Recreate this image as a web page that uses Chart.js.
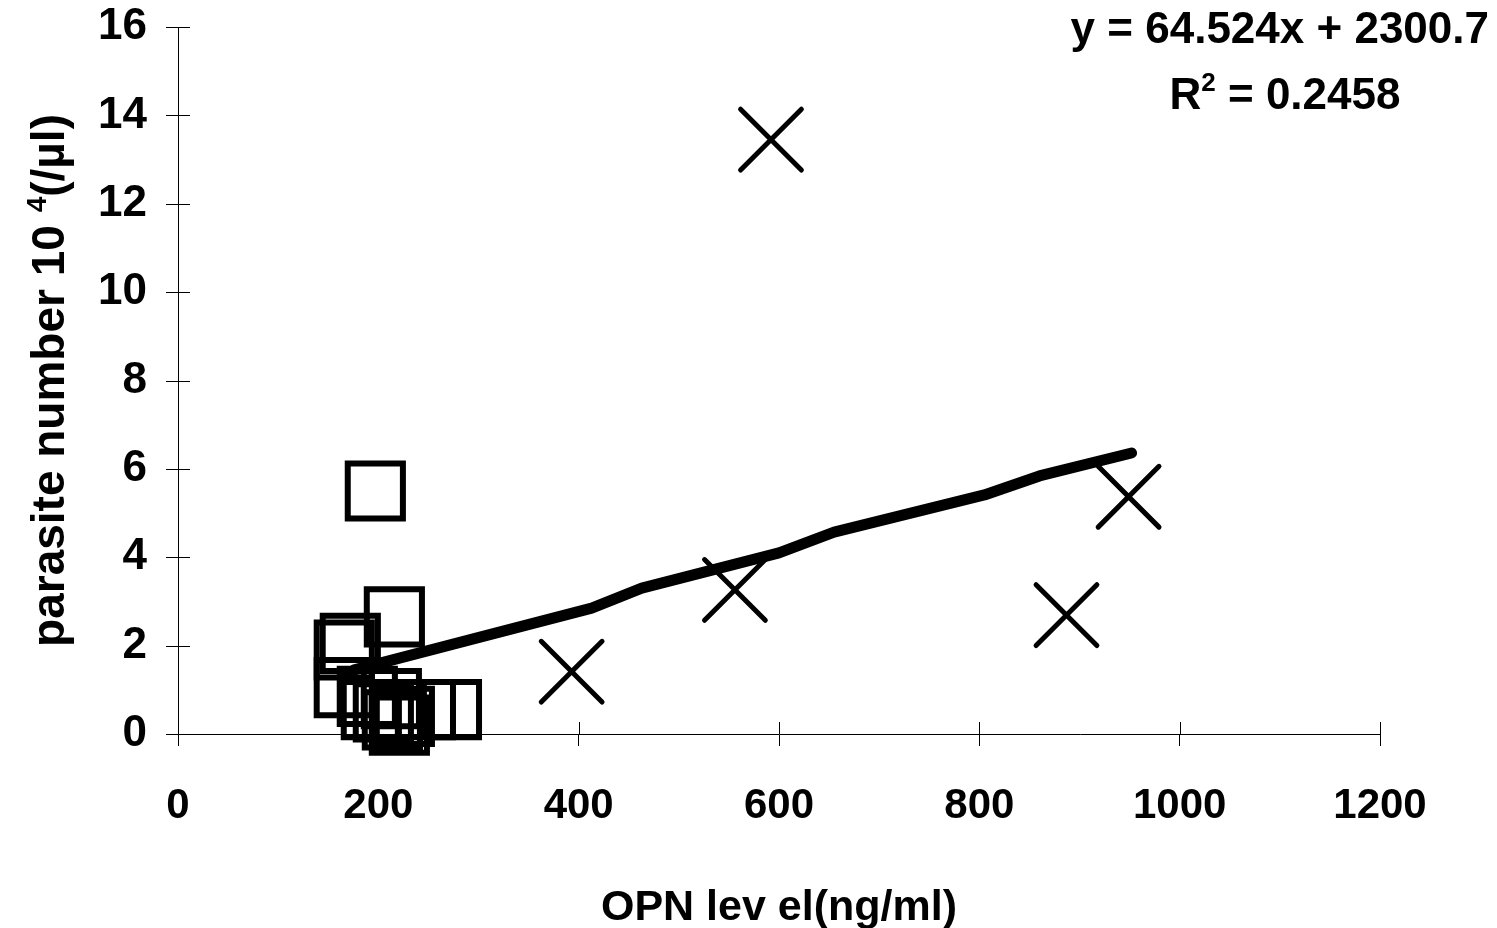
<!DOCTYPE html>
<html><head><meta charset="utf-8">
<script src="https://cdn.jsdelivr.net/npm/chart.js@4.4.0/dist/chart.umd.min.js"></script>
<style>html,body{margin:0;padding:0;background:#fff;}#wrap{width:1497px;height:928px;}</style>
</head><body><div id="wrap"><canvas id="c" width="1497" height="928"></canvas></div>
<script>
// ---- data ----
const xTicks = [0, 200, 400, 600, 800, 1000, 1200];
const yTicks = [0, 2, 4, 6, 8, 10, 12, 14, 16];
const groupA_OPN = [197, 216, 172, 166, 166, 189, 213, 193, 205, 214, 221, 226, 247, 273];
const groupA_parasite = [5.5, 2.65, 2.05, 1.9, 1.05, 0.85, 0.8, 0.55, 0.5, 0.32, 0.2, 0.4, 0.55, 0.55];
const groupB_OPN = [592, 393, 556, 887, 949];
const groupB_parasite = [13.45, 1.41, 3.26, 2.69, 5.37];
const trendOPN = [166, 176, 291, 413, 463, 600, 655, 805, 860, 952];
const trendParasite = [1.3, 1.45, 2.13, 2.85, 3.3, 4.1, 4.57, 5.41, 5.84, 6.36];
const xTitle = 'OPN lev el(ng/ml)';
const yTitleParts = [['parasite number 10 ', false], ['4', true], ['(/µl)', false]];
const eqText = 'y = 64.524x + 2300.7';
const r2Parts = [['R', false], ['2', true], [' = 0.2458', false]];

const FONT = '"Liberation Sans", Arial, sans-serif';

function richWidth(ctx, parts, size) {
  let w = 0;
  for (const [t, sup] of parts) {
    ctx.font = 'bold ' + (sup ? Math.round(size * 0.6) : size) + 'px ' + FONT;
    w += ctx.measureText(t).width;
  }
  return w;
}
function drawRich(ctx, parts, x, y, size) {
  for (const [t, sup] of parts) {
    ctx.font = 'bold ' + (sup ? Math.round(size * 0.6) : size) + 'px ' + FONT;
    ctx.fillText(t, x, sup ? y - size * 0.4 : y);
    x += ctx.measureText(t).width;
  }
}

const decor = {
  id: 'decor',
  beforeDatasetsDraw(chart) { chart.ctx.lineCap = 'round'; },
  afterDraw(chart) {
    const ctx = chart.ctx, xs = chart.scales.x, ys = chart.scales.y, a = chart.chartArea;
    ctx.save();
    ctx.lineCap = 'butt';
    ctx.strokeStyle = '#000'; ctx.lineWidth = 1;
    ctx.beginPath();
    for (const v of xTicks) { const p = Math.round(xs.getPixelForValue(v)) + 0.5; ctx.moveTo(p, a.bottom); ctx.lineTo(p, a.bottom - 12); }
    for (const v of yTicks) { const p = Math.round(ys.getPixelForValue(v)) + 0.5; ctx.moveTo(a.left - 12, p); ctx.lineTo(a.left + 12, p); }
    ctx.stroke();
    ctx.fillStyle = '#000';
    ctx.textBaseline = 'alphabetic';
    ctx.font = 'bold 43px ' + FONT;
    ctx.textAlign = 'center';
    ctx.fillText(xTitle, (a.left + a.right) / 2, 920);
    ctx.textAlign = 'left';
    ctx.save();
    ctx.translate(64, (a.top + a.bottom) / 2);
    ctx.rotate(-Math.PI / 2);
    const w = richWidth(ctx, yTitleParts, 46);
    drawRich(ctx, yTitleParts, -w / 2, 0, 46);
    ctx.restore();
    ctx.font = 'bold 44px ' + FONT;
    ctx.textAlign = 'right';
    ctx.fillText(eqText, 1489, 43);
    ctx.textAlign = 'left';
    const w2 = richWidth(ctx, r2Parts, 44);
    drawRich(ctx, r2Parts, 1285 - w2 / 2, 109, 44);
    ctx.restore();
  }
};

new Chart(document.getElementById('c'), {
  type: 'scatter',
  data: {
    datasets: [
      { type: 'line', data: trendOPN.map((x, i) => ({ x, y: trendParasite[i] })), borderColor: '#000', borderWidth: 11,
        borderCapStyle: 'round', borderJoinStyle: 'round', pointRadius: 0, fill: false, tension: 0, clip: false, order: 0 },
      { data: groupA_OPN.map((x, i) => ({ x, y: groupA_parasite[i] })), pointStyle: 'rect', pointRadius: 39,
        pointBorderWidth: 6, borderColor: '#000', backgroundColor: 'rgba(0,0,0,0)', clip: false, order: 2 },
      { data: groupB_OPN.map((x, i) => ({ x, y: groupB_parasite[i] })), pointStyle: 'crossRot', pointRadius: 43,
        pointBorderWidth: 5, borderColor: '#000', backgroundColor: 'rgba(0,0,0,0)', clip: false, order: 1 }
    ]
  },
  options: {
    responsive: false, animation: false, devicePixelRatio: 1,
    layout: { autoPadding: false, padding: { left: 0, right: 117, top: 27, bottom: 0 } },
    plugins: { legend: { display: false }, tooltip: { enabled: false } },
    scales: {
      x: {
        type: 'linear', min: 0, max: 1200,
        afterBuildTicks: s => { s.ticks = xTicks.map(v => ({ value: v })); },
        afterFit: s => { s.height = 194; },
        ticks: { font: { family: FONT, size: 42, weight: 'bold' }, color: '#000', padding: 35, maxRotation: 0, autoSkip: false,
                 callback: v => String(v) },
        grid: { drawOnChartArea: false, drawTicks: true, tickLength: 12, color: '#000', lineWidth: 1 },
        border: { display: true, color: '#000', width: 1 }
      },
      y: {
        type: 'linear', min: 0, max: 16,
        afterBuildTicks: s => { s.ticks = yTicks.map(v => ({ value: v })); },
        afterFit: s => { s.width = 178; },
        ticks: { font: { family: FONT, size: 44, weight: 'bold', lineHeight: 1 }, color: '#000', padding: 0, autoSkip: false,
                 callback: v => String(v) },
        grid: { drawOnChartArea: false, drawTicks: true, tickLength: 31, color: '#000', tickColor: 'rgba(0,0,0,0)', lineWidth: 1 },
        border: { display: true, color: '#000', width: 1 }
      }
    }
  },
  plugins: [decor]
});
</script></body></html>
